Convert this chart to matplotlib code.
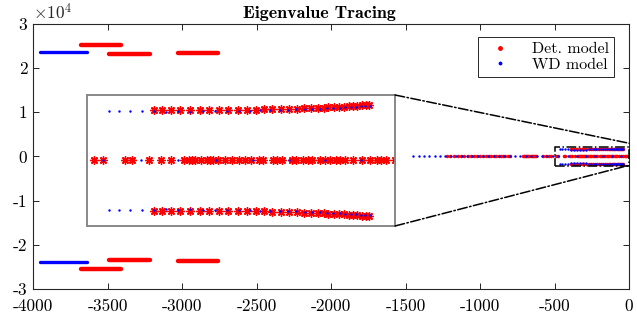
import matplotlib.pyplot as plt
from matplotlib.patches import Rectangle, ConnectionPatch
from matplotlib.ticker import FuncFormatter

plt.rcParams['font.family'] = 'cmr10'
plt.rcParams['axes.unicode_minus'] = False
plt.rcParams['mathtext.fontset'] = 'cm'
plt.rcParams['axes.formatter.use_mathtext'] = False

# high-frequency branches (drawn as dense traces)
wd_seg_x = [[-3953, -3640]]
wd_seg_up = [23700]
wd_seg_low = [-23900]
det_seg_x = [[-3680, -3411], [-3492, -3215], [-3025, -2756]]
det_seg_up = [25200, 23300, 23500]
det_seg_low = [-25400, -23400, -23600]

# low-frequency eigenvalues on the real axis
wd_real = [-1448, -1412, -1377, -1341, -1305, -1268, -1233, -1196, -1161, -1124,
           -1088, -1053, -1016, -981, -944, -909, -872, -836, -801, -764,
           -729, -692, -656, -621, -584, -548, -512]
det_real = [-1224, -1200, -1175, -1150, -1128, -1105, -1082, -1060, -1040, -1018,
            -998, -978, -960, -942, -925, -908, -892, -876, -860, -845,
            -830, -815, -800, -712, -705, -698, -690, -683, -676, -668,
            -660, -652, -645, -638, -630, -622, -575, -560, -540, -525]

# zoomed region: Det. model
det_row_x = [-392, -378, -364, -349, -332, -317, -302, -286, -271, -255,
             -241, -226, -212, -199, -185, -172, -159, -147, -136, -125,
             -116, -108, -99, -91, -83, -75, -68, -61, -54, -47, -42]
det_row_y = [1620, 1620, 1620, 1620, 1620, 1620, 1620, 1620, 1620, 1620,
             1625, 1630, 1635, 1640, 1648, 1655, 1662, 1670, 1680, 1688,
             1695, 1703, 1712, 1720, 1728, 1736, 1745, 1755, 1765, 1778, 1790]
det_mid_x = [-488, -474, -439, -427, -399, -380, -364, -342, -334, -330,
             -325, -315, -306, -300, -295, -287, -276, -265, -254, -244,
             -233, -220, -214, -198, -191, -184, -168, -160, -149, -141,
             -135, -122, -114, -106, -95, -89, -81, -68, -54, -41,
             -30, -22, -14, 0]

# zoomed region: WD model
wd_row_x = [-465, -448, -430, -411, -392, -372, -352, -332, -311, -292,
            -272, -253, -235, -219, -203, -187, -173, -160, -146, -135,
            -122, -111, -100, -90, -81, -72, -63, -55, -48, -41]
wd_row_y = [1597, 1597, 1597, 1597, 1580, 1570, 1580, 1570, 1575, 1580,
            1590, 1590, 1600, 1605, 1610, 1615, 1625, 1635, 1645, 1655,
            1665, 1675, 1685, 1695, 1705, 1715, 1725, 1735, 1745, 1755]
wd_mid_x = [-474, -412, -352, -291, -231, -172, -113, -56, -1]

red = '#ff0000'
blue = '#0000ff'

fig = plt.figure(figsize=(6.37, 3.23), dpi=100)
ax = fig.add_axes([0.0518, 0.1053, 0.9357, 0.8204])

for (x0, x1), yu, yl in zip(det_seg_x, det_seg_up, det_seg_low):
    ax.plot([x0, x1], [yu, yu], color=red, lw=3.2, solid_capstyle='round')
    ax.plot([x0, x1], [yl, yl], color=red, lw=3.2, solid_capstyle='round')
for (x0, x1), yu, yl in zip(wd_seg_x, wd_seg_up, wd_seg_low):
    ax.plot([x0, x1], [yu, yu], color=blue, lw=2.4, solid_capstyle='round')
    ax.plot([x0, x1], [yl, yl], color=blue, lw=2.4, solid_capstyle='round')


def draw_points(a, det_ms, wd_ms, star=False):
    if star:
        dm = dict(marker=(8, 2, 0), ms=det_ms, mew=1.0)
    else:
        dm = dict(marker='.', ms=det_ms, mew=0)
    a.plot(det_real + det_mid_x, [0] * (len(det_real) + len(det_mid_x)), ls='none', color=red, **dm)
    a.plot(det_row_x, det_row_y, ls='none', color=red, **dm)
    a.plot(det_row_x, [-v for v in det_row_y], ls='none', color=red, **dm)
    wm = dict(ls='none', color=blue, marker='.', ms=wd_ms, mew=0)
    a.plot(wd_real + wd_mid_x, [0] * (len(wd_real) + len(wd_mid_x)), **wm)
    a.plot(wd_row_x, wd_row_y, **wm)
    a.plot(wd_row_x, [-v for v in wd_row_y], **wm)


draw_points(ax, 5, 3.5)

ax.set_xlim(-4000, 0)
ax.set_ylim(-30000, 30000)
ax.set_xticks(range(-4000, 1, 500))
ax.set_yticks(range(-30000, 30001, 10000))
ax.yaxis.set_major_formatter(FuncFormatter(lambda v, _: f'{v / 1e4:g}'))
ax.tick_params(direction='in', top=True, right=True, length=4, width=0.6,
               labelsize=12.5)
ax.tick_params(axis='x', pad=7)
ax.tick_params(axis='y', pad=4)
for s in ax.spines.values():
    s.set_linewidth(0.8)
    s.set_color('#262626')
ax.text(0.0, 1.005, r'$\times10^4$', transform=ax.transAxes, fontsize=12.5,
        ha='left', va='bottom', color='#262626')
ax.set_title('Eigenvalue Tracing', fontfamily='cmb10', fontsize=13, pad=4,
             x=0.48)

# zoom box in the main axes
ax.add_patch(Rectangle((-500, -2100), 500, 4200, fill=False, ls='-.',
                       lw=1.1, ec='black', clip_on=False, zorder=5))

# legend handles
h1, = ax.plot([], [], ls='none', marker='.', color=red, ms=5, label='Det. model')
h2, = ax.plot([], [], ls='none', marker='.', color=blue, ms=3.5, label='WD model')
leg = ax.legend(handles=[h1, h2], loc='upper right', bbox_to_anchor=(0.988, 0.98),
                fontsize=11.5, fancybox=False, framealpha=1, edgecolor='#262626',
                borderpad=0.3, handletextpad=0.9, labelspacing=0.1, handlelength=2.2)
leg.get_frame().set_linewidth(0.7)

# inset
axins = fig.add_axes([0.1366, 0.3003, 0.4835, 0.4056])
draw_points(axins, 6, 3.5, star=True)
axins.set_xlim(-500, 0)
axins.set_ylim(-2100, 2100)
axins.set_xticks([])
axins.set_yticks([])
for s in axins.spines.values():
    s.set_color('#888888')
    s.set_linewidth(1.4)

for ya, yb in [(1, 3000), (0, -2000)]:
    con = ConnectionPatch(xyA=(1, ya), coordsA=axins.transAxes, xyB=(0, yb),
                          coordsB=ax.transData, ls='-.', lw=1.1, color='black')
    fig.add_artist(con)

fig.savefig('out.png', dpi=100)
